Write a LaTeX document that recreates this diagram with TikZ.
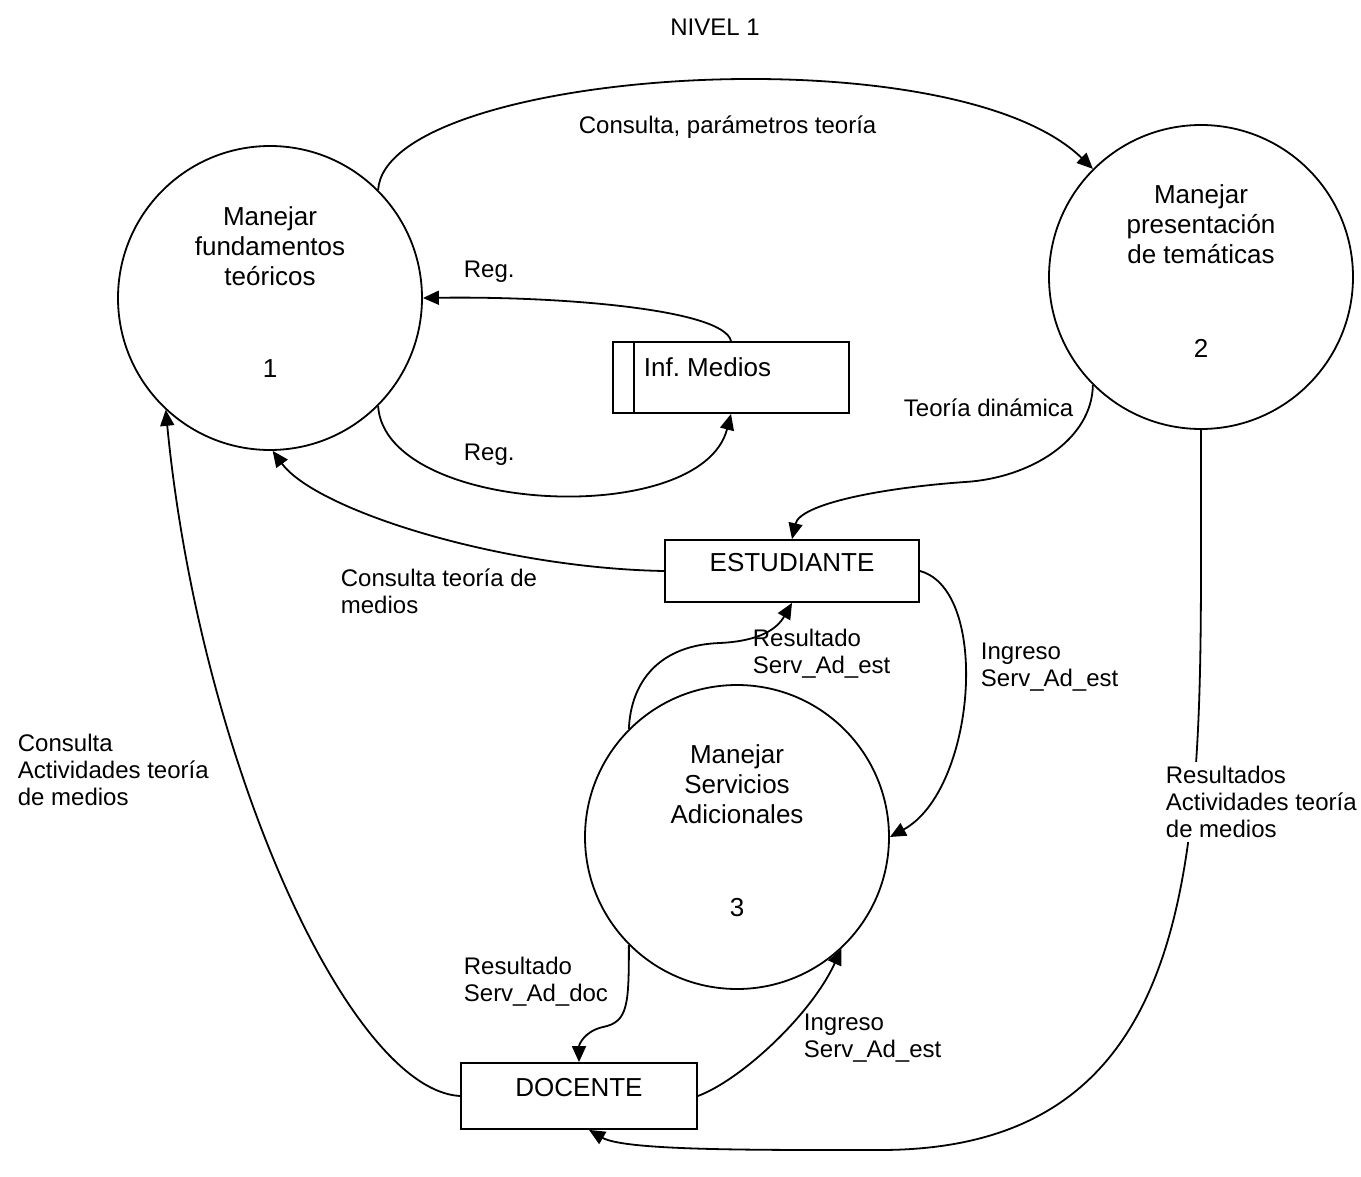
\documentclass[tikz,border=0pt]{standalone}
\usepackage{fontspec}
\setmainfont{Liberation Sans}
\usetikzlibrary{arrows.meta,calc}
\frenchspacing
\begin{document}
\begin{tikzpicture}[x=0.5pt,y=-0.5pt,
  line width=0.9pt,
  flow/.style={-{Triangle[length=8pt,width=7pt]}},
  proc/.style={circle,draw,minimum size=152pt,inner sep=0pt},
  ptitle/.style={align=center,font=\fontsize{13}{15}\selectfont,inner sep=0pt},
  pnum/.style={font=\fontsize{13}{15}\selectfont,inner sep=0pt},
  entity/.style={draw,rectangle,inner sep=0pt,font=\fontsize{13}{15}\selectfont,
                 text height=9.5pt,text depth=9.5pt},
  store/.style={draw,rectangle,inner sep=0pt,minimum width=118pt,minimum height=35.5pt},
  lbl/.style={align=left,anchor=west,inner sep=0pt,font=\fontsize{12}{13.5}\selectfont},
]
\useasboundingbox (0,0) rectangle (1361,1177);

% title
\node[font=\fontsize{12}{13.5}\selectfont,inner sep=0pt] (title) at (715,27) {NIVEL 1};

% processes
\node[proc] (p1) at (270,298) {};
\node[ptitle] (p1t) at ($(p1.center)+(0,-52)$) {Manejar\\fundamentos\\teóricos};
\node[pnum] (p1n) at ($(p1.center)+(0,71)$) {1};

\node[proc] (p2) at (1201,277) {};
\node[ptitle] (p2t) at ($(p2.center)+(0,-53)$) {Manejar\\presentación\\de temáticas};
\node[pnum] (p2n) at ($(p2.center)+(0,71)$) {2};

\node[proc] (p3) at (737,837) {};
\node[ptitle] (p3t) at ($(p3.center)+(0,-53)$) {Manejar\\Servicios\\Adicionales};
\node[pnum] (p3n) at ($(p3.center)+(0,71)$) {3};

% data store
\node[store] (ds) at (731,377.5) {};
\draw ([xshift=11pt]ds.north west) -- ([xshift=11pt]ds.south west);
\node[font=\fontsize{13}{15}\selectfont,anchor=west,inner sep=0pt] (dst) at (643,367) {Inf. Medios};

% external entities
\node[entity,minimum width=127pt,minimum height=31pt] (est) at (792,571) {ESTUDIANTE};
\node[entity,minimum width=118pt,minimum height=33pt] (doc) at (579,1096) {DOCENTE};

% data flows
\draw[flow] (p1.45) .. controls +(8,-120) and +(-143,-139) .. (p2.135);
\draw[flow] (ds.north) .. controls +(-7,-32) and +(136,-2) .. (p1.0);
\draw[flow] (p1.-45) .. controls +(7,108) and +(-30,116) .. (ds.south);
\draw[flow] (p2.225) .. controls +(-1,55) and +(65,-4) .. (965,482)
                     .. controls +(-85,6) and +(8,-35) .. (est.north);
\draw[flow] (est.west) .. controls +(-165,-3) and +(43,59) .. (p1.-89);
\draw[flow] (p3.135) .. controls +(2,-48) and +(-60,2) .. (720,643)
                     .. controls +(40,-2) and +(-15,26) .. (est.south);
\draw[flow] (est.east) .. controls +(71,19) and +(86,-47) .. (p3.0);
\draw[flow] (p3.225) .. controls +(0,60) and +(25,-5) .. (603,1027)
                     .. controls +(-18,4) and +(0,-18) .. (doc.north);
\draw[flow] (doc.east) .. controls +(43,-16) and +(-30,66) .. (p3.-47);
\draw[flow] (doc.west) .. controls +(-111,-6) and +(34,351) .. (p1.-133);
\draw[flow] (p2.270) .. controls +(-2,371) and +(350,0) .. (880,1150)
                     .. controls +(-120,0) and +(36,21) .. ([xshift=5pt]doc.south);

% flow labels
\node[lbl] (l1) at (578,127) {Consulta, parámetros teoría};
\node[lbl] (l2) at (463,272) {Reg.};
\node[lbl] (l3) at (463,455) {Reg.};
\node[lbl] (l4) at (903,408) {Teoría dinámica};
\node[lbl] (l5) at (340,591) {Consulta teoría de\\medios};
\node[lbl] (l6) at (752,654) {Resultado\\Serv\_Ad\_est};
\node[lbl] (l7) at (980,667) {Ingreso\\Serv\_Ad\_est};
\node[lbl] (l8) at (463,982) {Resultado\\Serv\_Ad\_doc};
\node[lbl] (l9) at (803,1038) {Ingreso\\Serv\_Ad\_est};
\node[lbl] (l10) at (17,770) {Consulta\\Actividades teoría\\de medios};
\node[lbl,fill=white,inner ysep=2pt] (l11) at (1165,802) {Resultados\\Actividades teoría\\de medios};
\end{tikzpicture}
\end{document}
